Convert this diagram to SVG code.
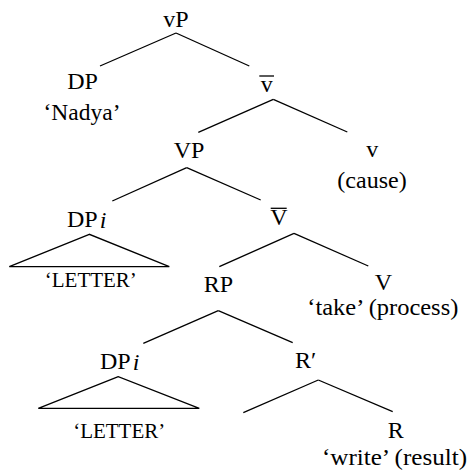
<svg xmlns="http://www.w3.org/2000/svg" width="467" height="472" viewBox="0 0 467 472">
<style>
text{font-family:"Liberation Serif","Times New Roman",serif;font-size:24px;fill:#000}
text.m{text-anchor:middle}
text.s{font-size:20px}
.e line,.e polygon,.bar{stroke:#000;stroke-width:1.3;fill:none}
</style>
<rect width="467" height="472" fill="#fff"/>
<g id="connectors" class="e">
<line x1="176" y1="33" x2="100" y2="66"/>
<line x1="176" y1="33" x2="249.3" y2="66"/>
<line x1="273.3" y1="99.3" x2="198.3" y2="132.3"/>
<line x1="273.3" y1="99.3" x2="347.3" y2="132"/>
<line x1="186.7" y1="167.7" x2="112.3" y2="201"/>
<line x1="186.7" y1="167.7" x2="260.7" y2="200"/>
<line x1="294" y1="233.3" x2="219.3" y2="266.7"/>
<line x1="294" y1="233.3" x2="368.3" y2="266"/>
<line x1="218.3" y1="310.7" x2="143.3" y2="343.3"/>
<line x1="218.3" y1="310.7" x2="292.7" y2="342.7"/>
<line x1="318.3" y1="380" x2="243.3" y2="412.7"/>
<line x1="318.3" y1="380" x2="392.7" y2="411.7"/>
</g>
<g id="vP"><text class="m" x="176" y="27">vP</text></g>
<g id="DP-Nadya"><text class="m" x="82.5" y="89">DP</text><text class="m" x="82" y="120" textLength="77" lengthAdjust="spacingAndGlyphs">‘Nadya’</text></g>
<g id="vbar"><text class="m" x="266.7" y="91.5">v</text><line class="bar" x1="259.3" y1="76" x2="274" y2="76"/></g>
<g id="v-cause"><text class="m" x="372.3" y="157">v</text><text class="m" x="372" y="188">(cause)</text></g>
<g id="VP"><text class="m" x="189" y="158">VP</text></g>
<g id="DPi-1" class="e"><text x="67" y="227">DP<tspan font-style="italic" dx="2" dy="1">i</tspan></text>
<polygon points="89.3,234.3 9.3,266.7 169.3,266.7"/>
<text class="m s" x="90.8" y="286.5" textLength="92" lengthAdjust="spacingAndGlyphs">‘LETTER’</text></g>
<g id="Vbar"><text class="m" x="279" y="225">V</text><line class="bar" x1="270.7" y1="208.3" x2="286.7" y2="208.3"/></g>
<g id="RP"><text class="m" x="218.5" y="291.7">RP</text></g>
<g id="V-take"><text class="m" x="383.3" y="290">V</text><text class="m" x="382.8" y="315" textLength="151" lengthAdjust="spacingAndGlyphs">‘take’ (process)</text></g>
<g id="DPi-2" class="e"><text x="100" y="369.3">DP<tspan font-style="italic" dx="2" dy="1">i</tspan></text>
<polygon points="118.3,376.7 38.3,408.3 199.3,408.3"/>
<text class="m s" x="119.2" y="438.3" textLength="92" lengthAdjust="spacingAndGlyphs">‘LETTER’</text></g>
<g id="Rprime"><text x="295" y="368.3">R′</text></g>
<g id="R-write"><text class="m" x="395.7" y="438.3">R</text><text class="m" x="394.5" y="465" textLength="145" lengthAdjust="spacingAndGlyphs">‘write’ (result)</text></g>
</svg>
